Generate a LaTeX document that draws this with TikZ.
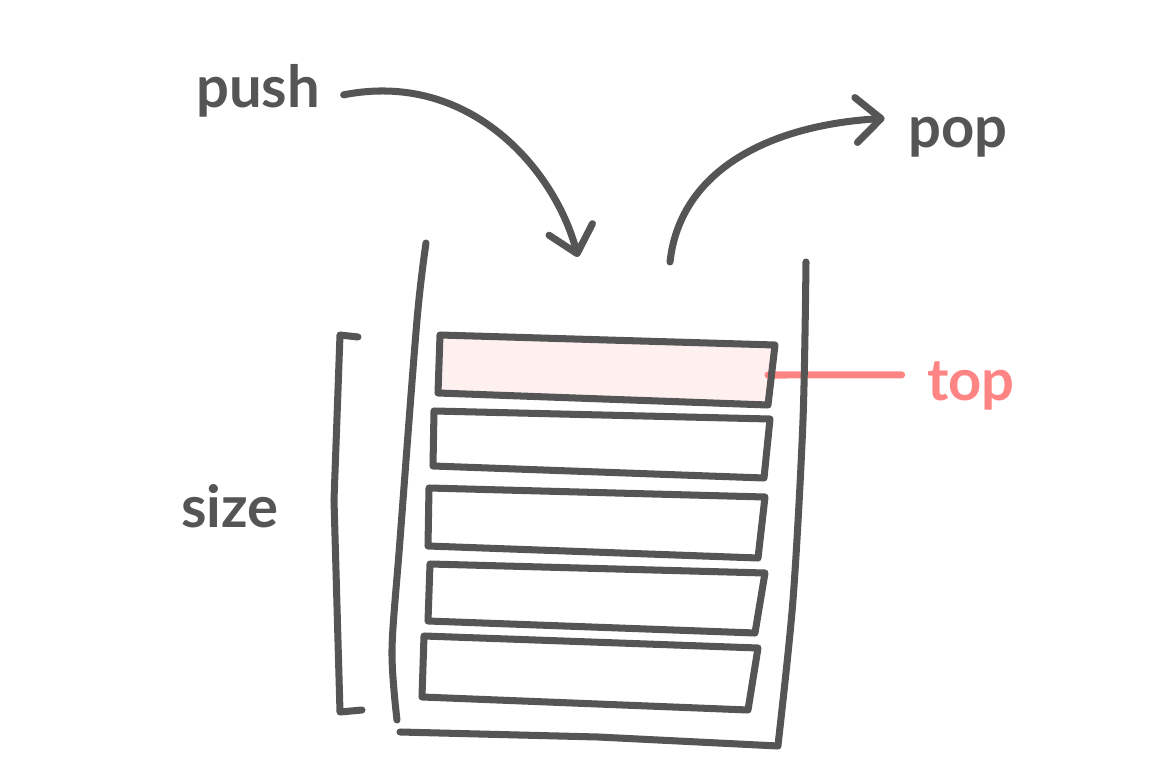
\documentclass[tikz,border=0pt]{standalone}
\usepackage{fontspec}
\setmainfont{Lato}
\usetikzlibrary{arrows.meta}
\definecolor{InkClr}{HTML}{555555}
\definecolor{TopClr}{HTML}{FF8585}
\definecolor{TopFillClr}{HTML}{FFF0F0}

\tikzset{
  ink/.style={line width=4pt,color=InkClr,line cap=round,line join=round},
  word/.style={font=\fontsize{33}{38}\selectfont\bfseries,text=InkClr,anchor=base},
  flow/.style={ink,-{Straight Barb[length=5mm,width=9mm,round]}},
}

\begin{document}
\begin{tikzpicture}[x=0.02cm,y=-0.02cm]
\useasboundingbox (0,0) rectangle (1164,777);

\node[word] (push) at (258,108) {push};
\node[word] (pop) at (958,148) {pop};
\node[word] (size) at (230,527) {size};
\node[word,text=TopClr] (top) at (971,400) {top};

\coordinate (pushend) at (578,257);
\coordinate (popstart) at (670,262);
\coordinate (topmark) at (768,375);

% top cell
\fill[TopFillClr] (440,335) -- (775,345) -- (768,405) -- (438,393) -- cycle;
\draw[ink,color=TopClr] (topmark) -- ([shift={(-11pt,6pt)}]top.west);

% cells
\foreach \ax/\ay/\bx/\by/\cx/\cy/\dx/\dy in {440/335/775/345/768/405/438/393,
    434/411/770/419/764/478/433/466,
    429/488/765/497/758/558/428/546,
    430/564/765/573/755/633/428/621,
    424/636/758/648/748/710/422/697}
  \draw[ink] (\ax,\ay) -- (\bx,\by) -- (\cx,\cy) -- (\dx,\dy) -- cycle;

% container
\draw[ink] plot[smooth] coordinates {(426,243) (417,320) (400,540) (392,650) (397,720)};
\draw[ink] (400,732) -- (598,737) -- (778,746);
\draw[ink] plot[smooth] coordinates {(806,262) (803,420) (793,600) (778,745)};

% size bracket
\draw[ink] (358,337) -- (340,335) -- (334,500) -- (340,712) -- (362,710);

% push / pop
\draw[flow] ([shift={(10pt,-2pt)}]push.east) .. controls (470,70) and (555,170) .. (pushend);
\draw[flow] (popstart) .. controls (680,170) and (770,125) .. ([shift={(-10pt,11pt)}]pop.west);

\end{tikzpicture}
\end{document}
